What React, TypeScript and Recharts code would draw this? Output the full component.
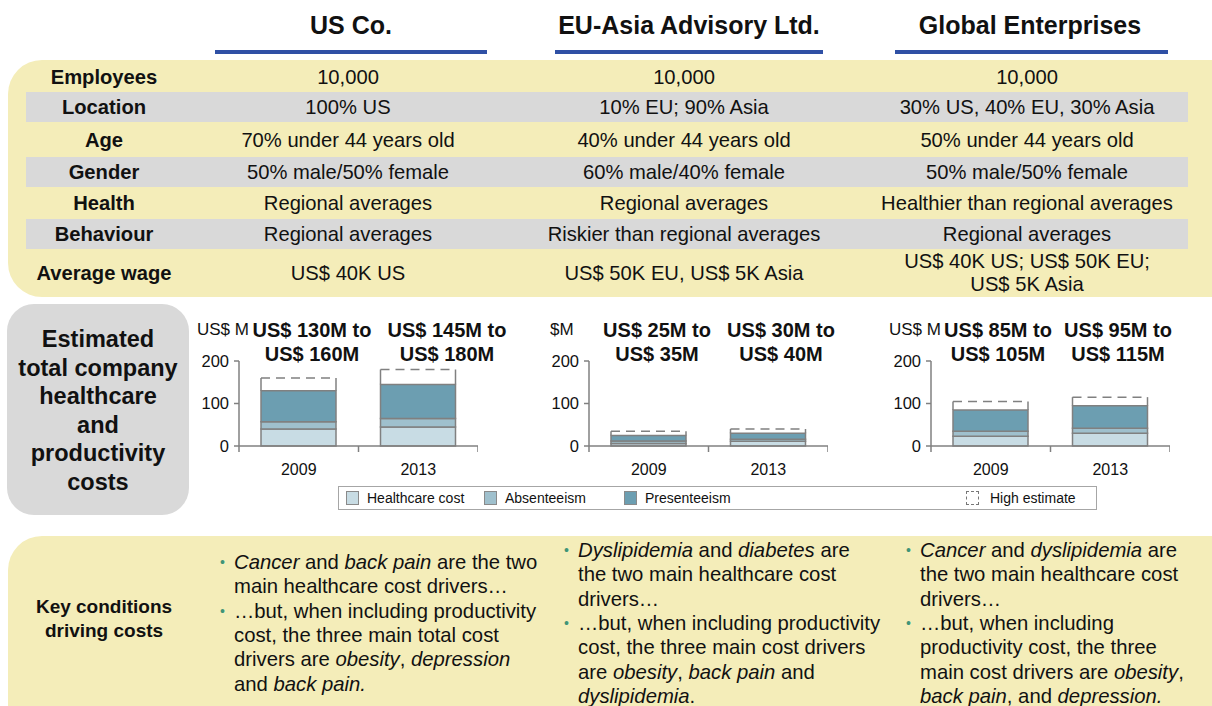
import React from 'react';
import { BarChart, Bar, XAxis, YAxis } from 'recharts';

const FONT = '"Liberation Sans", Arial, Helvetica, sans-serif';

// ---- table data ----
const companies = ['US Co.', 'EU-Asia Advisory Ltd.', 'Global Enterprises'];
const rowLabels = ['Employees', 'Location', 'Age', 'Gender', 'Health', 'Behaviour', 'Average wage'];
const usCoRows = ['10,000', '100% US', '70% under 44 years old', '50% male/50% female', 'Regional averages', 'Regional averages', 'US$ 40K US'];
const euAsiaRows = ['10,000', '10% EU; 90% Asia', '40% under 44 years old', '60% male/40% female', 'Regional averages', 'Riskier than regional averages', 'US$ 50K EU, US$ 5K Asia'];
const globalRows = ['10,000', '30% US, 40% EU, 30% Asia', '50% under 44 years old', '50% male/50% female', 'Healthier than regional averages', 'Regional averages', 'US$ 40K US; US$ 50K EU;\nUS$ 5K Asia'];

// ---- chart data (US$ M) ----
const years = ['2009', '2013'];
const units = ['US$ M', '$M', 'US$ M'];
const healthcareCost = [[40, 45], [6, 11], [23, 30]];
const absenteeism = [[17, 20], [6, 5], [12, 12]];
const presenteeism = [[73, 80], [13, 14], [50, 53]];
const highEstimate = [[160, 180], [35, 40], [105, 115]];
const rangeLabels = [
  [['US$ 130M to', 'US$ 160M'], ['US$ 145M to', 'US$ 180M']],
  [['US$ 25M to', 'US$ 35M'], ['US$ 30M to', 'US$ 40M']],
  [['US$ 85M to', 'US$ 105M'], ['US$ 95M to', 'US$ 115M']],
];
const yTicks = [0, 100, 200];

const YELLOW = '#f4edb9';
const GRAY = '#d9d9d9';
const AXIS = '#808080';
const C_HEALTH = '#c8dce4';
const C_ABS = '#9fc0cd';
const C_PRES = '#6c9eb1';

const CHART_W = 288;
const Y_W = 49;
const BAND = (CHART_W - Y_W) / 2;
const chartLefts = [190, 540, 882];
const titleCenters = [[312, 447], [657, 781], [998, 1118]];
const unitLefts = [197, 550, 889];

const rowCenters = [77, 107, 140, 172, 203, 234, 273];
const grayRows = [1, 3, 5];
const colCenters = [348, 684, 1027];

const HighShape = (props: any) => {
  const { x, y, width, height } = props;
  if (!height || height <= 0) return null;
  return (
    <g>
      <line x1={x} y1={y} x2={x + width} y2={y} stroke={AXIS} strokeWidth={1.5} strokeDasharray="9 6" />
      <line x1={x} y1={y} x2={x} y2={y + height} stroke={AXIS} strokeWidth={1.5} />
      <line x1={x + width} y1={y} x2={x + width} y2={y + height} stroke={AXIS} strokeWidth={1.5} />
    </g>
  );
};

const YearTick = (props: any) => {
  const { x, y, payload, index } = props;
  const h = BAND / 2;
  return (
    <g>
      {index === 0 && <line x1={x - h} y1={y} x2={x - h} y2={y + 6} stroke={AXIS} strokeWidth={1.5} />}
      <line x1={x + h} y1={y} x2={x + h} y2={y + 6} stroke={AXIS} strokeWidth={1.5} />
      <text x={x} y={y + 29} textAnchor="middle" fontSize={16} fill="#111" fontFamily={FONT}>
        {payload.value}
      </text>
    </g>
  );
};

function CostChart({ idx }: { idx: number }) {
  const data = years.map((yr, i) => ({
    year: yr,
    healthcare: healthcareCost[idx][i],
    absenteeism: absenteeism[idx][i],
    presenteeism: presenteeism[idx][i],
    high: highEstimate[idx][i] - healthcareCost[idx][i] - absenteeism[idx][i] - presenteeism[idx][i],
  }));
  return (
    <BarChart width={CHART_W} height={190} data={data} margin={{ top: 61, right: 0, bottom: 15, left: 0 }}>
      <YAxis
        domain={[0, 200]}
        ticks={yTicks}
        interval={0}
        width={Y_W}
        tickSize={5}
        tickMargin={5}
        axisLine={{ stroke: AXIS, strokeWidth: 1.5 }}
        tickLine={{ stroke: AXIS, strokeWidth: 1.5 }}
        tick={{ fill: '#111', fontSize: 16.5, fontFamily: FONT }}
      />
      <XAxis
        dataKey="year"
        height={29}
        interval={0}
        tickSize={0}
        tickMargin={0}
        tick={<YearTick />}
        axisLine={{ stroke: AXIS, strokeWidth: 1.5 }}
      />
      <Bar dataKey="healthcare" stackId="s" fill={C_HEALTH} stroke={AXIS} strokeWidth={1.5} barSize={75} isAnimationActive={false} />
      <Bar dataKey="absenteeism" stackId="s" fill={C_ABS} stroke={AXIS} strokeWidth={1.5} barSize={75} isAnimationActive={false} />
      <Bar dataKey="presenteeism" stackId="s" fill={C_PRES} stroke={AXIS} strokeWidth={1.5} barSize={75} isAnimationActive={false} />
      <Bar dataKey="high" stackId="s" fill="none" shape={<HighShape />} barSize={75} isAnimationActive={false} />
    </BarChart>
  );
}

const abs = (left: number, top: number, extra: React.CSSProperties = {}): React.CSSProperties => ({
  position: 'absolute',
  left,
  top,
  ...extra,
});

const Bullet = () => (
  <span style={{ position: 'absolute', left: -14, top: 0, color: '#3f9477', fontSize: 14 }}>•</span>
);

const usLines: [boolean, React.ReactNode][] = [
  [true, <><i>Cancer</i> and <i>back pain</i> are the two</>],
  [false, <>main healthcare cost drivers…</>],
  [true, <>…but, when including productivity</>],
  [false, <>cost, the three main total cost</>],
  [false, <>drivers are <i>obesity</i>, <i>depression</i></>],
  [false, <>and <i>back pain.</i></>],
];
const euLines: [boolean, React.ReactNode][] = [
  [true, <><i>Dyslipidemia</i> and <i>diabetes</i> are</>],
  [false, <>the two main healthcare cost</>],
  [false, <>drivers…</>],
  [true, <>…but, when including productivity</>],
  [false, <>cost, the three main cost drivers</>],
  [false, <>are <i>obesity</i>, <i>back pain</i> and</>],
  [false, <><i>dyslipidemia</i>.</>],
];
const globalLines: [boolean, React.ReactNode][] = [
  [true, <><i>Cancer</i> and <i>dyslipidemia</i> are</>],
  [false, <>the two main healthcare cost</>],
  [false, <>drivers…</>],
  [true, <>…but, when including</>],
  [false, <>productivity cost, the three</>],
  [false, <>main cost drivers are <i>obesity</i>,</>],
  [false, <><i>back pain</i>, and <i>depression.</i></>],
];

function TextBlock({ lines, left, firstCenter }: { lines: [boolean, React.ReactNode][]; left: number; firstCenter: number }) {
  const step = 24.3;
  return (
    <>
      {lines.map(([b, content], i) => (
        <div
          key={i}
          style={abs(left, firstCenter + i * step - 12, { height: 24, lineHeight: '24px', fontSize: 20.3, whiteSpace: 'nowrap', color: '#111' })}
        >
          {b && <Bullet />}
          {content}
        </div>
      ))}
    </>
  );
}

export default function App() {
  const colRows = [usCoRows, euAsiaRows, globalRows];
  const legendItems = [
    { label: 'Healthcare cost', color: C_HEALTH, x: 346 },
    { label: 'Absenteeism', color: C_ABS, x: 484 },
    { label: 'Presenteeism', color: C_PRES, x: 624 },
  ];
  return (
    <div style={{ position: 'absolute', left: 0, top: 0, width: 1212, height: 706, overflow: 'hidden', background: '#fff', fontFamily: FONT, color: '#111' }}>
      {/* company headers */}
      {companies.map((c, i) => (
        <div key={c} style={abs(colCenters[i] - 200 + (i === 2 ? 3 : i === 1 ? 5 : 3), 10, { width: 400, textAlign: 'center', fontSize: 25, fontWeight: 700, lineHeight: '30px' })}>
          {c}
        </div>
      ))}
      {[[215, 487], [555, 823], [895, 1168]].map(([a, b], i) => (
        <div key={i} style={abs(a, 50, { width: b - a, height: 4, background: '#2f50a5' })} />
      ))}

      {/* profile table */}
      <div style={abs(8, 60, { width: 1240, height: 237, background: YELLOW, borderRadius: 34 })} />
      {grayRows.map((r) => (
        <div key={r} style={abs(26, rowCenters[r] - 15, { width: 1162, height: 30, background: GRAY })} />
      ))}
      {rowLabels.map((lab, r) => (
        <div key={lab} style={abs(14, rowCenters[r] - 12, { width: 180, textAlign: 'center', fontSize: 20.2, fontWeight: 700, lineHeight: '24px' })}>
          {lab}
        </div>
      ))}
      {colRows.map((vals, c) =>
        vals.map((v, r) => {
          const lines = v.split('\n');
          const lh = 23;
          return (
            <div
              key={c + '-' + r}
              style={abs(colCenters[c] - 170, rowCenters[r] - (lines.length * lh) / 2, { width: 340, textAlign: 'center', fontSize: 20.2, lineHeight: lh + 'px', whiteSpace: 'nowrap' })}
            >
              {lines.map((l, k) => (
                <div key={k}>{l}</div>
              ))}
            </div>
          );
        })
      )}

      {/* cost section */}
      <div style={abs(7, 304, { width: 182, height: 211, background: GRAY, borderRadius: 27 })} />
      <div style={abs(7, 325, { width: 182, textAlign: 'center', fontSize: 23.5, fontWeight: 700, lineHeight: '28.6px' })}>
        Estimated
        <br />total company
        <br />healthcare
        <br />and
        <br />productivity
        <br />costs
      </div>

      {[0, 1, 2].map((k) => (
        <React.Fragment key={k}>
          <div style={abs(chartLefts[k], 300)}>
            <CostChart idx={k} />
          </div>
          <div style={abs(unitLefts[k], 320, { fontSize: 17, lineHeight: '20px', whiteSpace: 'nowrap' })}>{units[k]}</div>
          {rangeLabels[k].map((pair, j) => (
            <div
              key={j}
              style={abs(titleCenters[k][j] - 80, 318, { width: 160, textAlign: 'center', fontSize: 20, fontWeight: 700, lineHeight: '24px', whiteSpace: 'nowrap' })}
            >
              {pair[0]}
              <br />
              {pair[1]}
            </div>
          ))}
        </React.Fragment>
      ))}

      {/* legend */}
      <div style={abs(338, 486, { width: 759, height: 24, border: '1px solid #a6a6a6', boxSizing: 'border-box' })} />
      {legendItems.map((it) => (
        <React.Fragment key={it.label}>
          <div style={abs(it.x, 491, { width: 13, height: 14, background: it.color, border: '1px solid #8a8a8a', boxSizing: 'border-box' })} />
          <div style={abs(it.x + 21, 489, { fontSize: 14, lineHeight: '18px', whiteSpace: 'nowrap' })}>{it.label}</div>
        </React.Fragment>
      ))}
      <div style={abs(966, 491, { width: 13, height: 14, border: '1px dashed #777', boxSizing: 'border-box' })} />
      <div style={abs(990, 489, { fontSize: 14, lineHeight: '18px', whiteSpace: 'nowrap' })}>High estimate</div>

      {/* key conditions */}
      <div style={abs(8, 536, { width: 1240, height: 220, background: YELLOW, borderRadius: 34 })} />
      <div style={abs(14, 595, { width: 180, textAlign: 'center', fontSize: 19, fontWeight: 700, lineHeight: '24px' })}>
        Key conditions
        <br />
        driving costs
      </div>
      <TextBlock lines={usLines} left={234} firstCenter={562} />
      <TextBlock lines={euLines} left={578} firstCenter={550} />
      <TextBlock lines={globalLines} left={920} firstCenter={550} />
    </div>
  );
}
